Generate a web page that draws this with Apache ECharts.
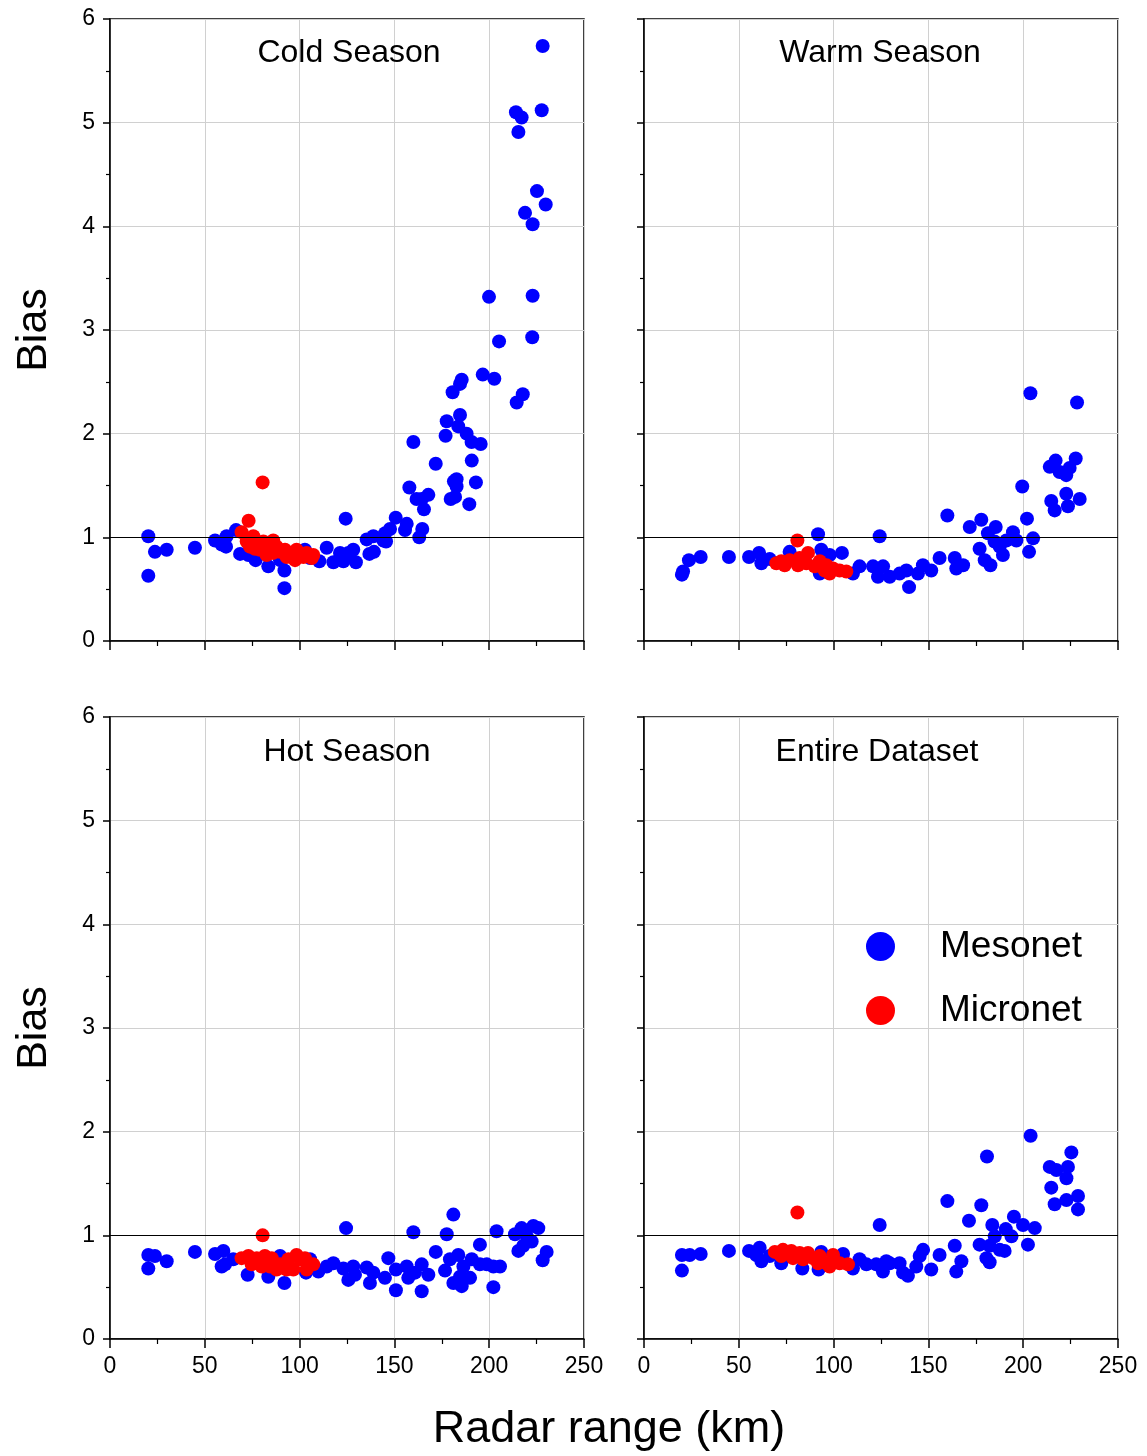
<!DOCTYPE html>
<html>
<head>
<meta charset="utf-8">
<script src="https://cdn.jsdelivr.net/npm/echarts@6/dist/echarts.min.js"></script>
<style>html,body{margin:0;padding:0;background:#fff}#c{width:1147px;height:1456px}</style>
</head>
<body>
<div id="c"></div>
<script>
var panelTitles = ['Cold Season', 'Warm Season', 'Hot Season', 'Entire Dataset'];
var xTicks = [0, 50, 100, 150, 200, 250];
var yTicks = [0, 1, 2, 3, 4, 5, 6];

var coldMeso = [[228.2,5.74],[214.1,5.10],[217.1,5.05],[227.7,5.12],[215.4,4.91],[225.2,4.34],[229.8,4.21],[218.9,4.13],[222.9,4.02],[199.9,3.32],[222.9,3.33],
[222.7,2.93],[205.2,2.89],[196.6,2.57],[202.7,2.53],[214.5,2.30],[217.7,2.38],[185.5,2.52],[184.6,2.48],[180.7,2.40],[184.6,2.18],[177.6,2.12],[183.7,2.07],[188.1,2.00],[190.7,1.92],[195.5,1.90],[160.0,1.92],[177.0,1.98],[171.8,1.71],[190.8,1.74],[182.8,1.56],[181.4,1.54],[182.8,1.49],[193.0,1.53],[157.9,1.48],[179.7,1.37],[182.0,1.39],[189.5,1.32],[161.7,1.37],[164.4,1.37],[167.9,1.41],[165.6,1.27],[150.7,1.19],[156.5,1.13],[155.6,1.07],[164.7,1.08],[163.1,1.00],[147.7,1.08],[145.1,1.04],[144.2,0.97],[138.9,1.01],[135.4,0.98],[145.6,0.96],[124.3,1.18],[139.2,0.86],[136.8,0.84],[128.3,0.88],[125.7,0.85],[121.3,0.85],[123.1,0.77],[117.8,0.76],[129.7,0.76],[114.3,0.90],[110.4,0.77],[105.5,0.80],[102.8,0.88],
[20.2,1.01],[20.2,0.63],[23.7,0.86],[29.9,0.88],[44.8,0.90],[55.4,0.97],[58.9,0.93],[61.5,1.01],[61.2,0.91],[66.5,1.07],[68.6,0.84],[73.0,0.83],[76.8,0.78],[83.5,0.72],[92.0,0.68],[92.0,0.51],[89.7,0.78]];
var coldMicro = [[80.5,1.53],[73.1,1.16],[69.4,1.05],[75.6,1.01],[72.1,0.96],[77.4,0.94],[80.9,0.96],[86.1,0.97],[73.8,0.91],[79.1,0.88],[84.4,0.89],[82.6,0.83],[87.9,0.91],[89.7,0.86],[92.3,0.88],[94.9,0.85],[98.4,0.88],[97.6,0.78],[100.2,0.83],[103.7,0.85],[107.2,0.83],[106.4,0.80],[102.0,0.81],[93.2,0.81],[86.1,0.85],[76.5,0.89]];

var warmMeso = [[203.8,2.39],[228.4,2.30],[227.7,1.76],[217.1,1.74],[214.0,1.68],[219.2,1.63],[224.5,1.67],[222.7,1.60],[199.5,1.49],[222.7,1.42],[229.8,1.37],[214.8,1.35],[216.6,1.26],[223.6,1.30],[202.0,1.18],[160.0,1.21],[171.8,1.10],[177.9,1.17],[185.5,1.10],[181.4,1.04],[194.6,1.05],[196.4,0.97],[205.2,0.99],[203.1,0.86],[177.0,0.89],[184.9,0.96],[189.3,0.83],[179.7,0.78],[182.7,0.73],[187.6,0.91],[191.1,0.97],
[91.8,1.03],[124.3,1.01],[139.8,0.52],[155.9,0.80],[163.9,0.80],[164.7,0.70],[168.3,0.73],[151.5,0.68],[147.1,0.73],[144.5,0.65],[138.4,0.68],[134.8,0.65],[129.6,0.62],[123.4,0.62],[126.1,0.72],[120.8,0.72],[113.7,0.72],[110.2,0.65],[104.4,0.85],[97.9,0.83],[93.5,0.88],[92.7,0.65],
[20.0,0.64],[20.6,0.67],[23.7,0.78],[29.9,0.81],[44.8,0.81],[55.4,0.81],[60.7,0.85],[61.9,0.75],[66.3,0.79],[76.8,0.86]];
var warmMicro = [[80.9,0.97],[69.8,0.75],[72.4,0.77],[76.8,0.78],[82.1,0.80],[86.5,0.85],[85.6,0.75],[90.0,0.72],[92.7,0.77],[96.2,0.73],[97.9,0.65],[99.7,0.70],[103.2,0.68],[106.7,0.67],[81.2,0.73],[74.2,0.73],[95.3,0.68]];

var hotMeso = [[181.1,1.20],[124.5,1.07],[160.0,1.03],[177.6,1.01],[203.9,1.04],[217.1,1.07],[223.3,1.09],[225.9,1.07],[213.6,1.01],[219.8,0.99],[222.4,0.94],[215.4,0.85],[218.0,0.90],[230.3,0.84],[228.2,0.76],[195.1,0.91],[171.8,0.84],
[183.7,0.81],[179.3,0.77],[176.7,0.66],[181.1,0.54],[185.5,0.51],[186.4,0.70],[190.8,0.77],[195.1,0.72],[198.7,0.72],[202.2,0.70],[205.7,0.70],[202.2,0.50],[184.6,0.60],[189.9,0.59],
[164.4,0.46],[150.8,0.47],[167.9,0.62],[164.4,0.72],[160.9,0.64],[156.5,0.70],[157.3,0.59],[150.8,0.67],[146.8,0.78],[145.0,0.59],[138.9,0.64],[137.1,0.54],[135.4,0.69],[128.3,0.70],[125.7,0.57],[129.2,0.62],[123.1,0.68],[117.8,0.73],[114.3,0.70],[109.9,0.65],[105.5,0.77],[103.4,0.64],
[92.0,0.54],[83.5,0.60],[72.6,0.62],[20.2,0.81],[20.2,0.68],[23.7,0.80],[29.9,0.75],[44.8,0.84],[55.4,0.82],[59.8,0.85],[60.7,0.72],[58.9,0.70],[65.0,0.77],[89.7,0.80]];
var hotMicro = [[80.5,1.00],[69.4,0.78],[73.0,0.80],[77.4,0.78],[81.7,0.80],[85.3,0.78],[74.7,0.72],[80.0,0.70],[84.4,0.70],[89.7,0.72],[94.1,0.77],[98.4,0.81],[100.2,0.77],[96.7,0.67],[93.2,0.67],[103.7,0.67],[107.2,0.72],[87.9,0.67],[102.8,0.78]];

var allMeso = [[203.9,1.96],[180.9,1.76],[225.4,1.80],[214.0,1.66],[217.5,1.63],[223.6,1.66],[222.8,1.55],[214.8,1.46],[228.9,1.38],[222.8,1.34],[216.6,1.30],[228.9,1.25],[160.0,1.33],[177.9,1.29],[171.4,1.14],[124.3,1.10],[195.1,1.18],[183.7,1.10],[190.8,1.06],[199.9,1.10],[206.1,1.07],[193.8,0.99],[202.5,0.91],
[185.0,0.99],[177.0,0.91],[182.3,0.90],[187.6,0.86],[190.2,0.85],[180.6,0.78],[182.3,0.74],
[163.9,0.90],[167.4,0.75],[164.7,0.65],[155.9,0.81],[147.2,0.86],[145.4,0.80],[143.6,0.70],[151.5,0.67],[139.2,0.61],[136.6,0.64],[134.8,0.73],[129.6,0.73],[126.0,0.65],[127.8,0.75],[122.5,0.72],[117.3,0.72],[113.7,0.77],[110.2,0.68],[105.0,0.82],
[20.0,0.81],[20.0,0.66],[24.1,0.81],[29.9,0.82],[44.8,0.85],[55.4,0.85],[61.0,0.88],[59.2,0.81],[61.9,0.75],[66.3,0.80],[72.4,0.73],[83.5,0.68],[92.1,0.67],[93.5,0.84]];
var allMicro = [[80.9,1.22],[69.0,0.84],[73.3,0.86],[77.7,0.85],[82.1,0.83],[86.5,0.83],[72.4,0.80],[78.6,0.78],[83.9,0.77],[89.1,0.78],[92.7,0.80],[99.7,0.81],[96.2,0.73],[103.2,0.73],[107.6,0.72],[97.9,0.70],[91.8,0.73]];

var mesoSets = [coldMeso, warmMeso, hotMeso, allMeso];
var microSets = [coldMicro, warmMicro, hotMicro, allMicro];

var FONT = 'Liberation Sans, Arial, sans-serif';
var gridPos = [
  {left: 110, top: 19},
  {left: 644, top: 19},
  {left: 110, top: 717},
  {left: 644, top: 717}
];
var grids = [], xAxes = [], yAxes = [], series = [], titles = [];
var titleCenters = [[349, 37], [880, 37], [347, 736], [877, 736]];
for (var i = 0; i < 4; i++) {
  grids.push({left: gridPos[i].left, top: gridPos[i].top, width: 474, height: 622,
    show: true, borderColor: '#000', borderWidth: 1.5, backgroundColor: 'transparent'});
  var isBottom = i >= 2, isLeft = (i % 2) === 0;
  xAxes.push({
    type: 'value', gridIndex: i, min: xTicks[0], max: xTicks[xTicks.length - 1], interval: 50,
    axisLine: {show: true, onZero: false, lineStyle: {color: '#000', width: 1.5}},
    axisTick: {show: true, inside: false, length: 9, lineStyle: {color: '#000', width: 1.5}},
    minorTick: {show: true, splitNumber: 2, length: 5, lineStyle: {color: '#000', width: 1.2}},
    splitLine: {show: true, lineStyle: {color: '#d0d0d0', width: 1}},
    axisLabel: {show: isBottom, color: '#000', fontSize: 23, fontFamily: FONT, margin: 16}
  });
  yAxes.push({
    type: 'value', gridIndex: i, min: yTicks[0], max: yTicks[yTicks.length - 1], interval: 1,
    name: isLeft ? 'Bias' : '', nameLocation: 'middle', nameGap: 54, nameRotate: 90,
    nameTextStyle: {color: '#000', fontSize: 43, fontFamily: FONT},
    axisLine: {show: true, onZero: false, lineStyle: {color: '#000', width: 1.5}},
    axisTick: {show: true, inside: false, length: 7, lineStyle: {color: '#000', width: 1.5}},
    minorTick: {show: true, splitNumber: 2, length: 4, lineStyle: {color: '#000', width: 1.2}},
    splitLine: {show: true, lineStyle: {color: '#d0d0d0', width: 1}},
    axisLabel: {show: isLeft, color: '#000', fontSize: 23, fontFamily: FONT, margin: 15}
  });
  series.push({
    name: 'Mesonet', type: 'scatter', xAxisIndex: i, yAxisIndex: i, data: mesoSets[i],
    symbol: 'circle', symbolSize: 14, itemStyle: {color: '#0000ff', opacity: 1},
    emphasis: {disabled: true}, z: 3,
    markLine: {silent: true, symbol: 'none', label: {show: false},
      lineStyle: {color: '#000', width: 1, type: 'solid'}, data: [{yAxis: 1}]}
  });
  series.push({
    name: 'Micronet', type: 'scatter', xAxisIndex: i, yAxisIndex: i, data: microSets[i],
    symbol: 'circle', symbolSize: 14, itemStyle: {color: '#ff0000', opacity: 1},
    emphasis: {disabled: true}, z: 4
  });
  titles.push({text: panelTitles[i], left: titleCenters[i][0], top: titleCenters[i][1], textAlign: 'center',
    padding: 0, textStyle: {color: '#000', fontSize: 32, fontWeight: 'normal', fontFamily: FONT}});
}
titles.push({text: 'Radar range (km)', left: 609, top: 1407, textAlign: 'center', padding: 0,
  textStyle: {color: '#000', fontSize: 45, fontWeight: 'normal', fontFamily: FONT}});

var chart = echarts.init(document.getElementById('c'), null, {renderer: 'canvas'});
chart.setOption({
  animation: false,
  backgroundColor: '#fff',
  title: titles,
  grid: grids,
  xAxis: xAxes,
  yAxis: yAxes,
  legend: {
    data: ['Mesonet', 'Micronet'], orient: 'vertical', left: 866, top: 928, padding: 0,
    icon: 'circle', itemWidth: 29, itemHeight: 29, itemGap: 27,
    selectedMode: false,
    textStyle: {color: '#000', fontSize: 37, lineHeight: 29, fontFamily: FONT, padding: [0, 0, 0, 40]}
  },
  series: series
});
</script>
</body>
</html>
